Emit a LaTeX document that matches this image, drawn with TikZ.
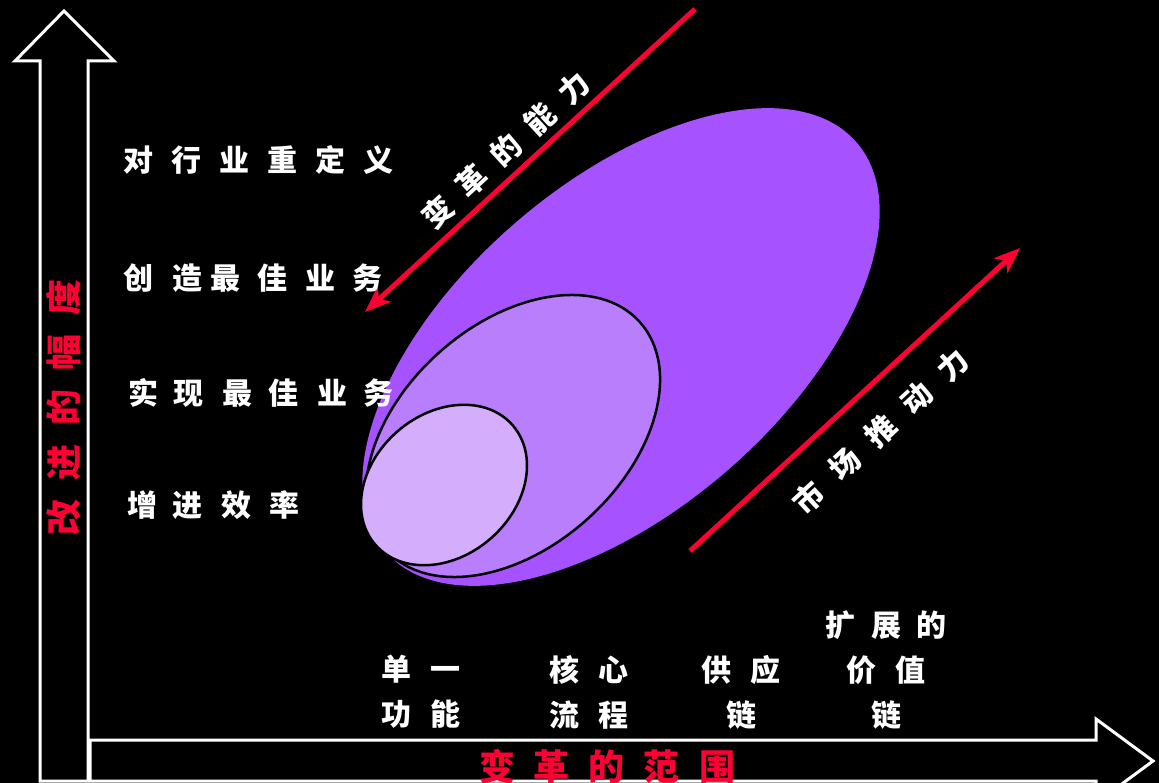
\documentclass[tikz,border=0pt]{standalone}
\usepackage{fontspec}
\newfontfamily\cjk{Noto Sans CJK SC}
\usetikzlibrary{arrows.meta}
\definecolor{bigpurple}{RGB}{166,82,255}
\definecolor{midpurple}{RGB}{184,126,252}
\definecolor{lightpurple}{RGB}{212,173,253}
\definecolor{redline}{RGB}{255,0,51}
\newcommand\gp[1]{\hspace{#1pt}}
\begin{document}
\begin{tikzpicture}[x=1pt,y=-1pt,
  wlabel/.style={text=white, font=\cjk\bfseries\fontsize{30pt}{45pt}\selectfont, inner sep=0pt, align=center},
  rlabel/.style={text=redline, font=\cjk\bfseries\fontsize{36pt}{40pt}\selectfont, inner sep=0pt},
  axisshape/.style={draw=white, line width=3pt, line join=miter, fill=black},
  force/.style={draw=redline, line width=5pt, -{Stealth[length=26pt,width=20pt,inset=7pt]}},
  ring/.style={draw=black, line width=2.5pt}]
\useasboundingbox (0,0) rectangle (1159,783);
\clip (0,0) rectangle (1159,783);
\fill[black] (0,0) rectangle (1159,783);

% axes
\draw[axisshape] (40,781) -- (40,61) -- (15,61) -- (64,11) -- (114,61) -- (88,61) -- (88,781) -- cycle;
\draw[axisshape] (90,740) -- (1096,740) -- (1096,719) -- (1153,761) -- (1096,803) -- (1096,781) -- (90,781) -- cycle;

% ellipses
\fill[bigpurple] (621,347) ellipse [x radius=312pt, y radius=163pt, rotate=41];
\filldraw[midpurple, ring] (513,436) ellipse [x radius=170.5pt, y radius=111.5pt, rotate=42];
\filldraw[lightpurple, ring] (444,485) ellipse [x radius=91pt, y radius=71pt, rotate=41];

% red force arrows
\coordinate (c1s) at (695,9);
\coordinate (c1e) at (365,312);
\coordinate (c2s) at (690,551);
\coordinate (c2e) at (1020,248);
\draw[force] (c1s) -- (c1e);
\draw[force] (c2s) -- (c2e);

\node[wlabel, rotate=42.5] (capability) at (506,150) {变\gp{16}革\gp{16}的\gp{16}能\gp{16}力};
\node[wlabel, rotate=42.8] (market) at (881,431) {市\gp{19}场\gp{19}推\gp{19}动\gp{19}力};

% left labels
\node[wlabel, anchor=west] (lvl4) at (123,160) {对\gp{18}行\gp{18}业\gp{18}重\gp{18}定\gp{18}义};
\node[wlabel, anchor=west] (lvl3) at (123,278) {创\gp{19}造\gp{8}最\gp{17}佳\gp{18}业\gp{17}务};
\node[wlabel, anchor=west] (lvl2) at (128,393) {实\gp{15}现\gp{19}最\gp{16}佳\gp{19}业\gp{16}务};
\node[wlabel, anchor=west] (lvl1) at (127,505) {增\gp{15}进\gp{19}效\gp{18}率};

% bottom labels
\node[wlabel] (scope1) at (421,692) {单\gp{19}一\\功\gp{19}能};
\node[wlabel] (scope2) at (589,692) {核\gp{19}心\\流\gp{19}程};
\node[wlabel] (scope3) at (741,692) {供\gp{19}应\\链};
\node[wlabel] (scope4) at (886,670) {扩\gp{16}展\gp{16}的\\价\gp{19}值\\链};

% axis titles
\node[rlabel, rotate=90] (ytitle) at (64,407) {改\gp{19}进\gp{19}的\gp{19}幅\gp{19}度};
\node[rlabel] (xtitle) at (607,767) {变\gp{19}革\gp{19}的\gp{19}范\gp{19}围};
\end{tikzpicture}
\end{document}
